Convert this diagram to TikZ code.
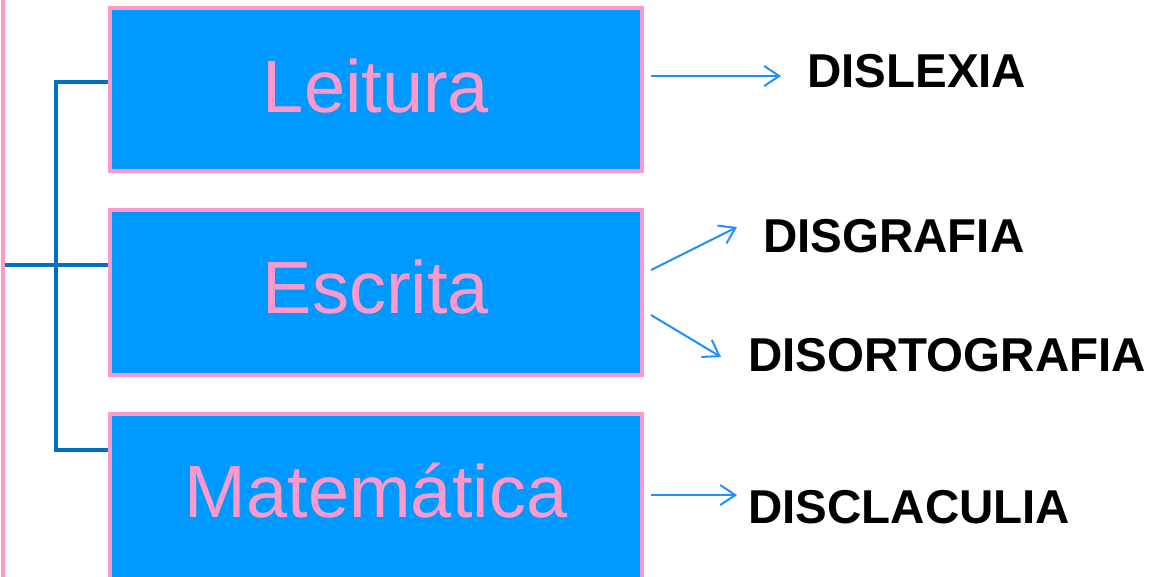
\documentclass[tikz,border=0pt]{standalone}
\usepackage{fontspec}
\setmainfont{Liberation Sans}
\usetikzlibrary{arrows.meta}
\definecolor{boxblue}{HTML}{0099FF}
\definecolor{boxpink}{HTML}{FF99CC}
\definecolor{linkblue}{HTML}{0070C0}
\definecolor{arrowblue}{HTML}{1E90FF}
\tikzset{
  area/.style={draw=boxpink, fill=boxblue, line width=4pt, minimum width=532pt,
    text=boxpink, font=\fontsize{74}{74}\selectfont, inner sep=0pt,
    text height=53pt, text depth=12pt},
  link/.style={draw=linkblue, line width=3.5pt},
  pointer/.style={draw=arrowblue, line width=2pt,
    -{Straight Barb[length=15pt,width=20pt,line width=2pt]}},
  label/.style={font=\bfseries\fontsize{47.5}{47.5}\selectfont, anchor=base west, inner sep=0pt}
}
\begin{document}
\begin{tikzpicture}[x=1pt,y=-1pt]
\useasboundingbox (0,0) rectangle (1155,576);
\begin{scope}
\clip (0,0) rectangle (1155,576);
% outer pink rule
\draw[boxpink, line width=4pt] (3,-5) -- (3,590);
% category boxes
\node[area, minimum height=163pt, text depth=8pt] (lei) at (376,89.5) {Leitura};
\node[area, minimum height=165pt] (esc) at (376,292.5) {Escrita};
\node[area, minimum height=166pt] (mat) at (376,497) {Matemática};
% tree connector
\coordinate (trunkTop) at (56,82);
\coordinate (trunkMid) at (56,265);
\coordinate (trunkBot) at (56,450);
\coordinate (root) at (5,265);
\draw[link] (lei.west |- trunkTop) -- (trunkTop) -- (trunkBot) -- (mat.west |- trunkBot);
\draw[link] (root) -- (esc.west |- trunkMid);
% labels
\node[label] (dlx) at (807,87) {DISLEXIA};
\node[label] (dgr) at (763,252) {DISGRAFIA};
\node[label] (dor) at (748,371) {DISORTOGRAFIA};
\node[label] (dcl) at (748,523) {DISCLACULIA};
% pointers
\coordinate (a1) at (651,76);  \coordinate (b1) at (781,76);
\coordinate (a2) at (651,270); \coordinate (b2) at (737,227);
\coordinate (a3) at (651,315); \coordinate (b3) at (721,357);
\coordinate (a4) at (651,495); \coordinate (b4) at (737,495);
\draw[pointer] (a1) -- (b1);
\draw[pointer] (a2) -- (b2);
\draw[pointer] (a3) -- (b3);
\draw[pointer] (a4) -- (b4);
\end{scope}
\end{tikzpicture}
\end{document}
